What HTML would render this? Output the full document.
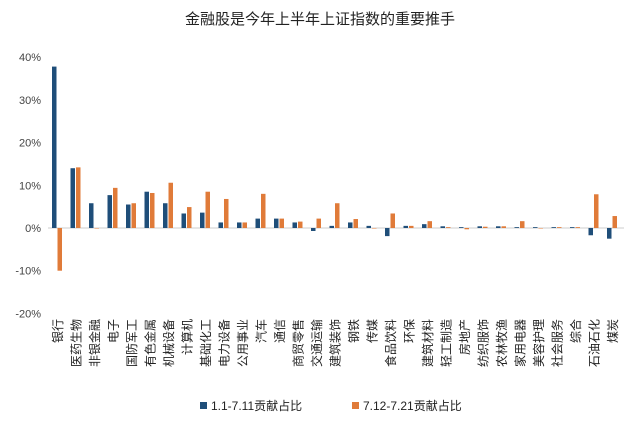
<!DOCTYPE html>
<html><head><meta charset="utf-8"><style>
body{margin:0;background:#fff;font-family:"Liberation Sans","Noto Sans CJK SC",sans-serif;}
#wrap{width:640px;height:431px;position:relative;overflow:hidden;}
</style></head><body>
<div id="wrap">
<svg id="chart" width="640" height="431"></svg>
</div>
<script>
const categories=["银行","医药生物","非银金融","电子","国防军工","有色金属","机械设备","计算机","基础化工","电力设备","公用事业","汽车","通信","商贸零售","交通运输","建筑装饰","钢铁","传媒","食品饮料","环保","建筑材料","轻工制造","房地产","纺织服饰","农林牧渔","家用电器","美容护理","社会服务","综合","石油石化","煤炭"];
const seriesA=[37.8,14.0,5.8,7.7,5.5,8.5,5.8,3.4,3.6,1.3,1.3,2.2,2.2,1.3,-0.7,0.5,1.3,0.5,-1.9,0.5,0.9,0.4,0.2,0.4,0.4,0.2,0.2,0.2,0.2,-1.7,-2.5];
const seriesB=[-10,14.2,0,9.4,5.8,8.2,10.6,4.9,8.5,6.8,1.3,8,2.2,1.5,2.2,5.8,2.1,0,3.4,0.5,1.6,0.2,-0.3,0.3,0.4,1.6,0,0.2,0.2,7.9,2.8];
const tickVals=[40,30,20,10,0,-10,-20];
const tickLabels=["40%","30%","20%","10%","0%","-10%","-20%"];
const NS="http://www.w3.org/2000/svg";
const svg=document.getElementById('chart');
const y=v=>228-v*4.27;
const x=i=>57+i*18.5;
function mk(t,a){const e=document.createElementNS(NS,t);for(const k in a)e.setAttribute(k,a[k]);svg.appendChild(e);return e;}
let t=mk('text',{x:320,y:24,'text-anchor':'middle','font-size':'15',fill:'#222'});t.textContent='金融股是今年上半年上证指数的重要推手';


tickVals.forEach((v,i)=>{const e=mk('text',{x:41,y:y(v)+4,'text-anchor':'end','font-size':'11',fill:'#444'});e.textContent=tickLabels[i];

});
const z=mk('line',{x1:48,x2:624,y1:y(0),y2:y(0),stroke:'#ccc','stroke-width':1});


categories.forEach((c,i)=>{
 const a=seriesA[i],b=seriesB[i];
 const ra=mk('rect',{x:x(i)-5,y:Math.min(y(a),y(0)),width:4.5,height:Math.max(Math.abs(y(a)-y(0)),0.5),fill:'#1f4e79'});
 
 
 const rb=mk('rect',{x:x(i)+0.5,y:Math.min(y(b),y(0)),width:4.5,height:Math.max(Math.abs(y(b)-y(0)),0.5),fill:'#e07b39'});
 
 
 const lx=x(i)+5, ly=319;
 const l=mk('text',{x:lx,y:ly,'font-size':'12',fill:'#222','text-anchor':'end',transform:'rotate(-90 '+lx+' '+ly+')'});
 l.textContent=c;
 
 
});
const lg=[[200,'#1f4e79','1.1-7.11贡献占比'],[352,'#e07b39','7.12-7.21贡献占比']];
lg.forEach(([lx,col,txt])=>{const r=mk('rect',{x:lx,y:402,width:7,height:7,fill:col});


const e=mk('text',{x:lx+11,y:410,'font-size':'12',fill:'#222'});e.textContent=txt;

});
</script>
</body></html>
